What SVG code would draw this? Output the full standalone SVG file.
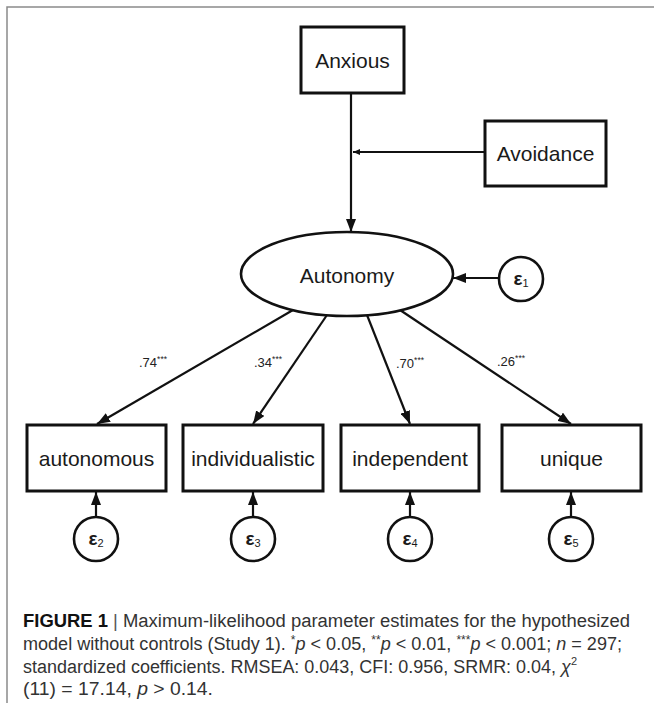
<svg xmlns="http://www.w3.org/2000/svg" width="654" height="703" viewBox="0 0 654 703">
<defs>
<style>
.box{fill:#fff;stroke:#111;stroke-width:3}
.circ{fill:#fff;stroke:#111;stroke-width:2.6}
.lbl{font-family:"Liberation Sans",Arial,sans-serif;font-size:21px;fill:#1a1a1a;text-anchor:middle}
.eps{font-family:"Liberation Sans",Arial,sans-serif;font-size:19px;font-weight:bold;fill:#1a1a1a;text-anchor:middle}
.con{stroke:#111;stroke-width:2.2;fill:none}
.coef{font-family:"Liberation Sans",Arial,sans-serif;font-size:13px;fill:#222}
.cap{font-family:"Liberation Sans",Arial,sans-serif;font-size:18px;fill:#333}
</style>
<marker id="ah" markerUnits="userSpaceOnUse" markerWidth="14" markerHeight="10" refX="13" refY="5" orient="auto">
<path d="M0,0 L13,5 L0,10 z" fill="#111"/>
</marker>
<marker id="ahs" markerUnits="userSpaceOnUse" markerWidth="8" markerHeight="6" refX="7" refY="3" orient="auto">
<path d="M0,0 L7,3 L0,6 z" fill="#111"/>
</marker>
</defs>
<rect width="654" height="703" fill="#fff"/>
<path d="M7,703 V7 H654" fill="none" stroke="#8a8a8a" stroke-width="1.5"/>

<g id="connectors">
<line class="con" x1="351" y1="93" x2="351" y2="232" marker-end="url(#ah)"/>
<line class="con" x1="485" y1="152" x2="353" y2="152" marker-end="url(#ahs)"/>
<line class="con" x1="499" y1="278" x2="453" y2="278" marker-end="url(#ah)"/>
<line class="con" x1="293" y1="310" x2="97" y2="424" marker-end="url(#ah)"/>
<line class="con" x1="327" y1="315" x2="253" y2="424" marker-end="url(#ah)"/>
<line class="con" x1="367" y1="315" x2="410" y2="424" marker-end="url(#ah)"/>
<line class="con" x1="400" y1="310" x2="571" y2="424" marker-end="url(#ah)"/>
<line class="con" x1="96" y1="517" x2="96" y2="492" marker-end="url(#ah)"/>
<line class="con" x1="253" y1="517" x2="253" y2="492" marker-end="url(#ah)"/>
<line class="con" x1="410" y1="517" x2="410" y2="492" marker-end="url(#ah)"/>
<line class="con" x1="571" y1="517" x2="571" y2="492" marker-end="url(#ah)"/>
<text class="coef" x="139" y="367">.74<tspan font-size="8.5" dy="-5">***</tspan></text>
<text class="coef" x="254" y="367">.34<tspan font-size="8.5" dy="-5">***</tspan></text>
<text class="coef" x="396" y="368">.70<tspan font-size="8.5" dy="-5">***</tspan></text>
<text class="coef" x="497" y="366">.26<tspan font-size="8.5" dy="-5">***</tspan></text>
</g>

<g id="anxious">
<rect class="box" x="301" y="27" width="103" height="66"/>
<text class="lbl" x="352.5" y="67.5">Anxious</text>
</g>
<g id="avoidance">
<rect class="box" x="485" y="121" width="121" height="65"/>
<text class="lbl" x="545.5" y="161">Avoidance</text>
</g>
<g id="autonomy">
<ellipse cx="347" cy="274" rx="106" ry="42" fill="#fff" stroke="#111" stroke-width="2.6"/>
<text class="lbl" x="347" y="282.5">Autonomy</text>
</g>
<g id="e1">
<circle class="circ" cx="521" cy="279" r="22"/>
<text class="eps" x="521" y="285">ε<tspan font-size="11" font-weight="normal" dy="2">1</tspan></text>
</g>
<g id="autonomous">
<rect class="box" x="27" y="425" width="139" height="66"/>
<text class="lbl" x="96.5" y="465.5">autonomous</text>
</g>
<g id="individualistic">
<rect class="box" x="183" y="425" width="140" height="66"/>
<text class="lbl" x="253" y="465.5">individualistic</text>
</g>
<g id="independent">
<rect class="box" x="341" y="425" width="138" height="66"/>
<text class="lbl" x="410" y="465.5">independent</text>
</g>
<g id="unique">
<rect class="box" x="502" y="425" width="139" height="66"/>
<text class="lbl" x="571.5" y="465.5">unique</text>
</g>
<g id="e2">
<circle class="circ" cx="96" cy="539" r="22"/>
<text class="eps" x="96" y="545">ε<tspan font-size="11" font-weight="normal" dy="2">2</tspan></text>
</g>
<g id="e3">
<circle class="circ" cx="253" cy="539" r="22"/>
<text class="eps" x="253" y="545">ε<tspan font-size="11" font-weight="normal" dy="2">3</tspan></text>
</g>
<g id="e4">
<circle class="circ" cx="410" cy="539" r="22"/>
<text class="eps" x="410" y="545">ε<tspan font-size="11" font-weight="normal" dy="2">4</tspan></text>
</g>
<g id="e5">
<circle class="circ" cx="571" cy="539" r="22"/>
<text class="eps" x="571" y="545">ε<tspan font-size="11" font-weight="normal" dy="2">5</tspan></text>
</g>

<g id="caption">
<text class="cap" x="23" y="627" textLength="607" lengthAdjust="spacingAndGlyphs"><tspan font-weight="bold" fill="#111">FIGURE 1</tspan> <tspan fill="#555">|</tspan> Maximum-likelihood parameter estimates for the hypothesized</text>
<text class="cap" x="23" y="650" textLength="599" lengthAdjust="spacingAndGlyphs">model without controls (Study 1). <tspan font-size="12" dy="-6">*</tspan><tspan font-style="italic" dy="6">p</tspan> &lt; 0.05, <tspan font-size="12" dy="-6">**</tspan><tspan font-style="italic" dy="6">p</tspan> &lt; 0.01, <tspan font-size="12" dy="-6">***</tspan><tspan font-style="italic" dy="6">p</tspan> &lt; 0.001; <tspan font-style="italic">n</tspan> = 297;</text>
<text class="cap" x="23" y="673" textLength="554" lengthAdjust="spacingAndGlyphs">standardized coefficients. RMSEA: 0.043, CFI: 0.956, SRMR: 0.04, <tspan font-style="italic">χ</tspan><tspan font-size="11" dy="-8">2</tspan></text>
<text class="cap" x="23" y="695" textLength="190" lengthAdjust="spacingAndGlyphs">(11) = 17.14, <tspan font-style="italic">p</tspan> &gt; 0.14.</text>
</g>
</svg>
